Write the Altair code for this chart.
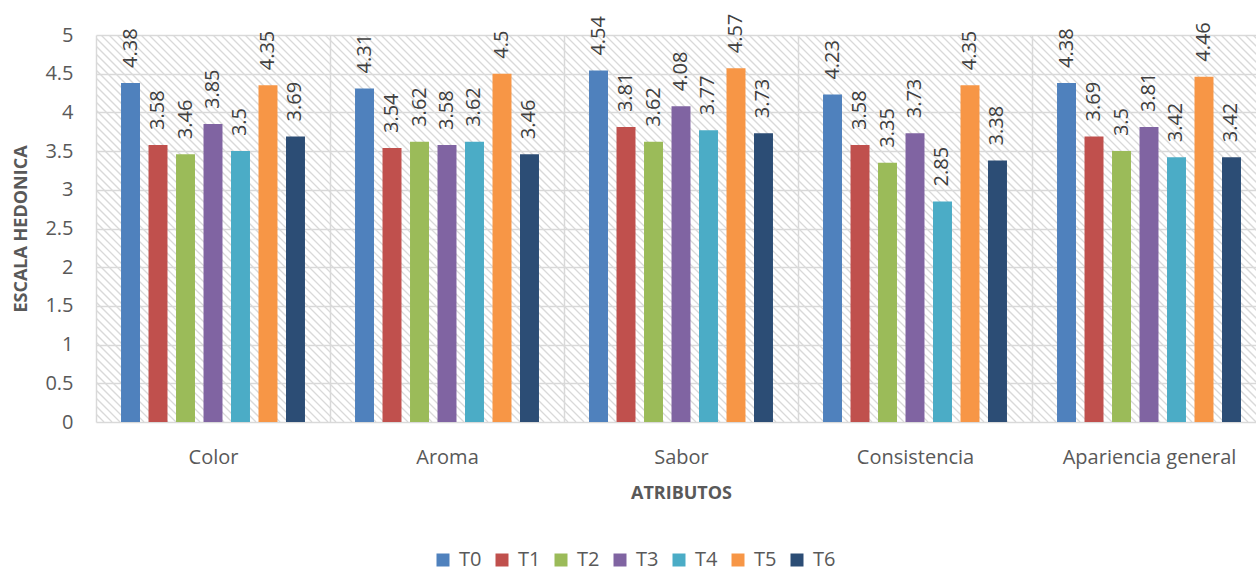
import altair as alt
import pandas as pd

# Attributes evaluated and mean hedonic score per treatment
atributos = ["Color", "Aroma", "Sabor", "Consistencia", "Apariencia general"]
series = ["T0", "T1", "T2", "T3", "T4", "T5", "T6"]

T0 = [4.38, 4.31, 4.54, 4.23, 4.38]
T1 = [3.58, 3.54, 3.81, 3.58, 3.69]
T2 = [3.46, 3.62, 3.62, 3.35, 3.50]
T3 = [3.85, 3.58, 4.08, 3.73, 3.81]
T4 = [3.50, 3.62, 3.77, 2.85, 3.42]
T5 = [4.35, 4.50, 4.57, 4.35, 4.46]
T6 = [3.69, 3.46, 3.73, 3.38, 3.42]

y_ticks = [0, 0.5, 1, 1.5, 2, 2.5, 3, 3.5, 4, 4.5, 5]

colores = ["#4F81BD", "#C0504D", "#9BBB59", "#8064A2", "#4BACC6", "#F79646", "#2C4D75"]

valores = dict(zip(series, [T0, T1, T2, T3, T4, T5, T6]))
rows = []
for s in series:
    for a, v in zip(atributos, valores[s]):
        rows.append({"atributo": a, "serie": s, "valor": v, "etiqueta": f"{v:g}"})
df = pd.DataFrame(rows)

W, H = 1160, 387
FULL = 1170  # band range runs a little past the visible plot edge
GRID = "#d9d9d9"
TXT = "#595959"

# diagonal hatching of the plot background
hatch = (
    alt.Chart(alt.sequence(start=-H, stop=FULL, step=8, as_="k"))
    .transform_calculate(k2=f"datum.k + {H}")
    .mark_rule(clip=True, color="#d9d9d9", strokeWidth=1.3)
    .encode(
        x=alt.X("k:Q", scale=None, axis=None),
        x2=alt.X2("k2:Q"),
        y=alt.value(0),
        y2=alt.value(H),
    )
)

x_enc = alt.X(
    "atributo:N",
    sort=atributos,
    scale=alt.Scale(range=[0, FULL], paddingInner=0, paddingOuter=0),
    axis=alt.Axis(
        title="ATRIBUTOS",
        tickBand="extent",
        grid=True,
        gridColor=GRID,
        gridWidth=1.5,
        ticks=False,
        domain=False,
        labelAngle=0,
        labelFontSize=20,
        labelColor=TXT,
        labelPadding=25,
        titleFontSize=18,
        titleFontWeight="bold",
        titleColor=TXT,
        titleBaseline="alphabetic",
        titleY=76,
    ),
)
xoff_enc = alt.XOffset(
    "serie:N", sort=series, scale=alt.Scale(paddingInner=0.31, paddingOuter=0.91)
)
y_enc = alt.Y(
    "valor:Q",
    scale=alt.Scale(domain=[0, 5], nice=False, zero=True),
    axis=alt.Axis(
        title="ESCALA HEDONICA",
        values=y_ticks,
        tickCount=11,
        format=".1~f",
        labelOverlap=False,
        grid=True,
        gridColor=GRID,
        gridWidth=1.5,
        ticks=False,
        domain=False,
        labelFontSize=20,
        labelColor=TXT,
        labelPadding=23,
        titleFontSize=18,
        titleFontWeight="bold",
        titleColor=TXT,
        titleBaseline="alphabetic",
        titleX=-70,
    ),
)

bars = alt.Chart(df).mark_bar().encode(
    x=x_enc,
    xOffset=xoff_enc,
    y=y_enc,
    color=alt.Color(
        "serie:N",
        sort=series,
        scale=alt.Scale(domain=series, range=colores),
        legend=alt.Legend(
            title=None,
            orient="none",
            direction="horizontal",
            legendX=337,
            legendY=515,
            symbolType="square",
            symbolSize=169,
            symbolStrokeWidth=0,
            labelFontSize=20,
            labelColor=TXT,
            labelOffset=6,
            columnPadding=10,
            padding=0,
        ),
    ),
)

labels = alt.Chart(df).mark_text(
    angle=270, align="left", baseline="middle", dx=15, fontSize=20, color="#404040"
).encode(
    x=x_enc,
    xOffset=xoff_enc,
    y=y_enc,
    text="etiqueta:N",
)

chart = (
    alt.layer(hatch, alt.layer(bars, labels))
    .resolve_scale(x="independent")
    .properties(
        width=W,
        height=H,
        autosize=alt.AutoSizeParams(type="none"),
        padding={"left": 96, "top": 35, "right": 0, "bottom": 146},
        background="white",
    )
    .configure(font="Open Sans")
    .configure_view(strokeWidth=0)
)

chart.save("out.html", embed_options={"renderer": "svg", "actions": False})
